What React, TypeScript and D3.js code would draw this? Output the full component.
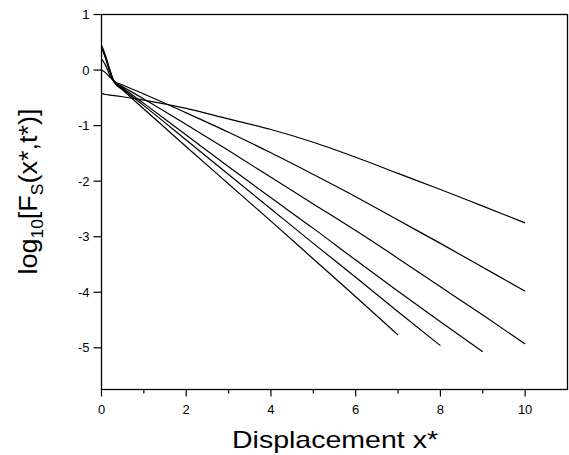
import React, { useRef, useEffect } from "react"
import * as d3 from "d3"

// x* grid points shared by the curves
const xs = [0, 0.1, 0.2, 0.3, 0.5, 1, 2, 3, 4, 5, 6, 7, 8, 9, 10]

// log10 Fs values, one list per curve (shorter curves stop early)
const curveA = [-0.42, -0.44, -0.45, -0.46, -0.48, -0.54, -0.69, -0.88, -1.07, -1.3, -1.57, -1.86, -2.15, -2.45, -2.75]
const curveB = [0.0, -0.05, -0.13, -0.2, -0.27, -0.43, -0.77, -1.12, -1.49, -1.88, -2.28, -2.7, -3.12, -3.55, -3.98]
const curveC = [0.2, 0.08, -0.1, -0.21, -0.3, -0.52, -0.98, -1.45, -1.93, -2.41, -2.89, -3.39, -3.9, -4.41, -4.93]
const curveD = [0.45, 0.25, 0.0, -0.2, -0.32, -0.6, -1.17, -1.74, -2.3, -2.85, -3.42, -3.98, -4.53, -5.07]
const curveE = [0.42, 0.22, -0.02, -0.21, -0.34, -0.64, -1.26, -1.88, -2.5, -3.12, -3.73, -4.35, -4.96]
const curveF = [0.4, 0.2, -0.04, -0.22, -0.36, -0.7, -1.38, -2.05, -2.72, -3.4, -4.08, -4.77]

const curves = [curveA, curveB, curveC, curveD, curveE, curveF]

const xTicks = [0, 2, 4, 6, 8, 10]
const xMinor = [1, 3, 5, 7, 9]
const yTicks = [1, 0, -1, -2, -3, -4, -5]

const W = 569
const H = 455
const margin = { top: 14.5, right: 1.5, bottom: 65.5, left: 101.5 }

function App() {
  const ref = useRef<SVGSVGElement>(null)

  useEffect(() => {
    const svg = d3.select(ref.current)
    svg.selectAll("*").remove()

    const x = d3.scaleLinear().domain([0, 11]).range([margin.left, W - margin.right])
    const y = d3.scaleLinear().domain([-5.75, 1]).range([H - margin.bottom, margin.top])

    const font = "'Liberation Sans', Arial, sans-serif"

    // frame
    svg.append("rect")
      .attr("x", x(0))
      .attr("y", y(1))
      .attr("width", x(11) - x(0))
      .attr("height", y(-5.75) - y(1))
      .attr("fill", "none")
      .attr("stroke", "#000")
      .attr("stroke-width", 1.3)

    // x axis
    const gx = svg.append("g").attr("transform", `translate(0,${y(-5.75)})`)
    gx.selectAll(".maj").data(xTicks).join("line")
      .attr("class", "maj")
      .attr("x1", d => x(d)).attr("x2", d => x(d))
      .attr("y1", 0).attr("y2", 7)
      .attr("stroke", "#000").attr("stroke-width", 1.2)
    gx.selectAll(".min").data(xMinor).join("line")
      .attr("class", "min")
      .attr("x1", d => x(d)).attr("x2", d => x(d))
      .attr("y1", 0).attr("y2", 4)
      .attr("stroke", "#000").attr("stroke-width", 1.2)
    gx.selectAll("text").data(xTicks).join("text")
      .attr("x", d => x(d))
      .attr("y", 24)
      .attr("text-anchor", "middle")
      .attr("font-family", font)
      .attr("font-size", 13)
      .attr("fill", "#000")
      .text(d => d)

    // y axis
    const gy = svg.append("g").attr("transform", `translate(${x(0)},0)`)
    gy.selectAll("line").data(yTicks).join("line")
      .attr("x1", 0).attr("x2", -8)
      .attr("y1", d => y(d)).attr("y2", d => y(d))
      .attr("stroke", "#000").attr("stroke-width", 1.2)
    gy.selectAll("text").data(yTicks).join("text")
      .attr("x", -12)
      .attr("y", d => y(d) + 4.5)
      .attr("text-anchor", "end")
      .attr("font-family", font)
      .attr("font-size", 13)
      .attr("fill", "#000")
      .text(d => d)

    // curves
    const line = d3.line<number>()
      .x((d, i) => x(xs[i]))
      .y(d => y(d))
      .curve(d3.curveMonotoneX)

    svg.append("g")
      .selectAll("path")
      .data(curves)
      .join("path")
      .attr("d", d => line(d))
      .attr("fill", "none")
      .attr("stroke", "#000")
      .attr("stroke-width", 1.2)

    // axis titles
    svg.append("text")
      .attr("x", 335)
      .attr("y", 448)
      .attr("text-anchor", "middle")
      .attr("font-family", font)
      .attr("font-size", 24)
      .attr("fill", "#000")
      .attr("textLength", 206)
      .attr("lengthAdjust", "spacingAndGlyphs")
      .text("Displacement x*")

    const yt = svg.append("text")
      .attr("transform", "translate(37,191.5) rotate(-90)")
      .attr("text-anchor", "middle")
      .attr("font-family", font)
      .attr("font-size", 25)
      .attr("fill", "#000")
      .attr("textLength", 166)
      .attr("lengthAdjust", "spacingAndGlyphs")
    yt.append("tspan").text("log")
    yt.append("tspan").attr("font-size", 16).attr("dy", 6).text("10")
    yt.append("tspan").attr("dy", -6).text("[F")
    yt.append("tspan").attr("font-size", 16).attr("dy", 6).text("S")
    yt.append("tspan").attr("dy", -6).text("(x*,t*)]")
  }, [])

  return (
    <svg
      ref={ref}
      width={W}
      height={H}
      style={{ position: "absolute", left: 0, top: 0, background: "#fff" }}
    ></svg>
  )
}

export default App
